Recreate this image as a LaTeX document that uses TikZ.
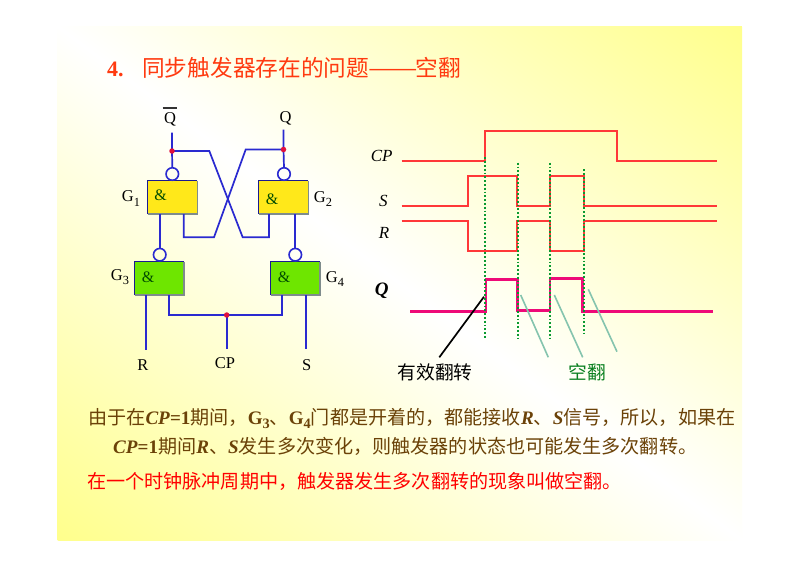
\documentclass[tikz,border=0pt]{standalone}
\usepackage{fontspec}
\setmainfont{Liberation Serif}
\newfontfamily\cjk{Noto Sans CJK SC}
\definecolor{wireblue}{HTML}{2A2AD0}
\definecolor{navyedge}{HTML}{1A1A90}
\definecolor{grayedge}{HTML}{7F8C8C}
\definecolor{dotred}{HTML}{E0103C}
\definecolor{gateyellow}{HTML}{FFE81A}
\definecolor{gategreen}{HTML}{6EE600}
\definecolor{wavered}{HTML}{FF3838}
\definecolor{wavepink}{HTML}{EE0A78}
\definecolor{dotgreen}{HTML}{0A9A30}
\definecolor{tealline}{HTML}{85C4AE}
\definecolor{bodybrown}{HTML}{6B4208}
\definecolor{titlered}{HTML}{FF3A10}
\definecolor{spacegreen}{HTML}{0A8020}
\definecolor{bgyellow}{HTML}{FFFF8C}
\tikzset{
  gatebox/.style={minimum width=49.5pt,minimum height=33.5pt,inner sep=0pt,outer sep=0pt},
  bubble/.style={circle,draw=wireblue,line width=1.6pt,fill=none,minimum size=12.5pt,inner sep=0pt,outer sep=0pt},
  junction/.style={circle,fill=dotred,minimum size=5.5pt,inner sep=0pt},
  wire/.style={wireblue,line width=1.7pt},
  logiclabel/.style={font=\fontsize{16.5}{18}\selectfont,text=black,inner sep=0pt},
  amp/.style={font=\fontsize{16}{18}\selectfont,text=black!70!green,inner sep=0pt},
  wave/.style={wavered,line width=1.7pt},
  qwave/.style={wavepink,line width=2.8pt,line join=miter},
  marker/.style={dotgreen,line width=1.8pt,dash pattern=on 1.8pt off 2pt},
  pointer/.style={tealline,line width=1.6pt},
  wavelabel/.style={font=\fontsize{17}{18}\selectfont\itshape,inner sep=0pt},
  captionzh/.style={font=\cjk\fontsize{18.75}{20}\selectfont,inner sep=0pt},
  bodyline/.style={anchor=base west,inner sep=0pt,text=bodybrown,font=\fontsize{19.1}{20}\selectfont},
  titlepart/.style={anchor=base west,inner sep=0pt,text=titlered,font=\cjk\fontsize{22.7}{24}\selectfont},
}
\newcommand{\zh}[1]{{\cjk #1}}
\newcommand{\bi}[1]{{\bfseries\itshape #1}}
\newcommand{\lowsub}[1]{\raisebox{-0.25em}{\scalebox{0.75}{#1}}}
\begin{document}
\begin{tikzpicture}[x=1pt,y=-1pt]
\useasboundingbox (0,0) rectangle (800,566);
\fill[white] (0,0) rectangle (800,566);
\begin{scope}
\clip (57,26) rectangle (742,540);
\shade[shading=axis,top color=bgyellow,bottom color=bgyellow,middle color=white,transform canvas={rotate around={-36.9:(399.5,283)}}] (-100.5,-128) rectangle (899.5,694);
\end{scope}

% title
\node[anchor=base west,inner sep=0pt,text=titlered,font=\bfseries\fontsize{22}{24}\selectfont] (titlenum) at (107,76) {4.};
\node[titlepart] (titletext) at (142,76) {同步触发器存在的问题};
\node[titlepart] (titledash) at (368,76) {\scalebox{1.3}[1]{——}};
\node[titlepart] (titleend) at (415.5,76) {空翻};

% gates
\node[gatebox,fill=gateyellow] (g1) at (172.5,197.3) {};
\node[gatebox,fill=gateyellow] (g2) at (283.5,197.3) {};
\node[gatebox,fill=gategreen] (g3) at (159.3,278.3) {};
\node[gatebox,fill=gategreen] (g4) at (295.3,278.3) {};
\foreach \g in {g1,g2,g3,g4}{
  \draw[grayedge,line width=1.2pt] (\g.north east) -- (\g.south east) -- (\g.south west);
  \draw[navyedge,line width=1.2pt] (\g.south west) -- (\g.north west) -- (\g.north east);
}
\node[amp] (amp1) at (160.7,195.7) {\&};
\node[amp] (amp2) at (272,199) {\&};
\node[amp] (amp3) at (148,277) {\&};
\node[amp] (amp4) at (284,277) {\&};

% bubbles
\node[bubble] (b1) at (172.3,174) {};
\node[bubble] (b2) at (284,174) {};
\node[bubble] (b3) at (159.7,254.7) {};
\node[bubble] (b4) at (295.3,254.7) {};

% labels
\node[logiclabel] (qbar) at (170,119.5) {Q};
\draw[black!80,line width=1.1pt] (162.5,108) -- (177,108);
\node[logiclabel] (qout) at (285.5,118) {Q};
\node[logiclabel] (lg1) at (131,198.5) {G\lowsub{1}};
\node[logiclabel] (lg2) at (323,199) {G\lowsub{2}};
\node[logiclabel] (lg3) at (120,277.5) {G\lowsub{3}};
\node[logiclabel] (lg4) at (335,279) {G\lowsub{4}};
\node[logiclabel] (rin) at (143,365.5) {R};
\node[logiclabel] (cpin) at (225,363.5) {CP};
\node[logiclabel] (sin) at (306.7,365.5) {S};

% named points of the wiring
\coordinate (q1top) at (172,132.5);
\coordinate (q2top) at (283.5,129.5);
\coordinate (j1) at (172,151);
\coordinate (j2) at (283.5,149.5);
\coordinate (j3) at (226.7,315);
\coordinate (x1a) at (209.3,151);
\coordinate (x1b) at (242.7,237.3);
\coordinate (x1c) at (269,237.3);
\coordinate (x1d) at (269,214);
\coordinate (x2a) at (245.7,149.5);
\coordinate (x2b) at (214,237.3);
\coordinate (x2c) at (183.7,237.3);
\coordinate (x2d) at (183.7,214);
\coordinate (g1in) at (159.7,214);
\coordinate (g2in) at (295.3,214);
\coordinate (g3r) at (146,295);
\coordinate (g3cp) at (169,295);
\coordinate (g4cp) at (282,295);
\coordinate (g4s) at (306,295);
\coordinate (rend) at (146,350);
\coordinate (cpend) at (226.7,348.5);
\coordinate (send) at (306,348.5);
\coordinate (cpl) at (169,315);
\coordinate (cpr) at (282,315);

\draw[wire] (q1top) -- (j1) -- (b1.north);
\draw[wire] (q2top) -- (j2) -- (b2.north);
\draw[wire] (j1) -- (x1a) -- (x1b) -- (x1c) -- (x1d);
\draw[wire] (j2) -- (x2a) -- (x2b) -- (x2c) -- (x2d);
\draw[wire] (g1in) -- (b3.north);
\draw[wire] (g2in) -- (b4.north);
\draw[wire] (g3r) -- (rend);
\draw[wire] (g3cp) -- (cpl) -- (cpr) -- (g4cp);
\draw[wire] (j3) -- (cpend);
\draw[wire] (g4s) -- (send);
\node[junction] at (j1) {};
\node[junction] at (j2) {};
\node[junction] at (j3) {};

% waveforms
\draw[wave] (401.7,160.7) -- (485,160.7) -- (485,130.7) -- (617,130.7) -- (617,160.7) -- (717.3,160.7);
\draw[wave] (401.7,206) -- (467.7,206) -- (467.7,176) -- (517.3,176) -- (517.3,206) -- (550.3,206) -- (550.3,176) -- (584,176) -- (584,206) -- (717.3,206);
\draw[wave] (401.7,220.7) -- (467.7,220.7) -- (467.7,251) -- (517.3,251) -- (517.3,220.7) -- (550.3,220.7) -- (550.3,251) -- (584,251) -- (584,220.7) -- (717.3,220.7);
\draw[qwave] (410,311.3) -- (486,311.3) -- (486,279.3) -- (517.3,279.3) -- (517.3,310.7) -- (550,310.7) -- (550,278.7) -- (582.3,278.7) -- (582.3,311.7) -- (713.3,311.7);

\draw[marker] (485.3,157.3) -- (485.3,339);
\draw[marker] (517.7,162.7) -- (517.7,339);
\draw[marker] (550.3,162.7) -- (550.3,339);
\draw[marker] (584,169.3) -- (584,333.3);

\draw[black,line width=1.7pt] (484,296.7) -- (439.3,357.3);
\draw[pointer] (520.7,295) -- (548.3,357.3);
\draw[pointer] (554.3,295) -- (582.7,357.3);
\draw[pointer] (588.3,289.3) -- (617,351.7);

\node[wavelabel] (lcp) at (381.7,155.5) {CP};
\node[wavelabel] (ls) at (383.3,200.7) {S};
\node[wavelabel] (lr) at (384,232.7) {R};
\node[wavelabel,font=\bfseries\itshape\fontsize{19}{20}\selectfont] (lq) at (381.7,291) {Q};
\node[captionzh,text=black] (valid) at (435,372) {有效翻转};
\node[captionzh,text=spacegreen] (empty) at (587,372) {空翻};

% body text
\node[bodyline] (l1a) at (88,424) {\zh{由于在}\bi{CP}\textbf{=1}\zh{期间，}\textbf{G\lowsub{3}}\zh{、}\textbf{G\lowsub{4}}\zh{门都是开着的，都能接收}\bi{R}\zh{、}\bi{S}\zh{信号，所以，如果在}};
\node[bodyline] (l2a) at (113,453) {\bi{CP}\textbf{=1}\zh{期间}\bi{R}\zh{、}\bi{S}\zh{发生多次变化，则触发器的状态也可能发生多次翻转。}};
\node[bodyline,text=red] (l3a) at (87,488) {\zh{在一个时钟脉冲周期中，触发器发生多次翻转的现象叫做空翻。}};
\end{tikzpicture}
\end{document}
